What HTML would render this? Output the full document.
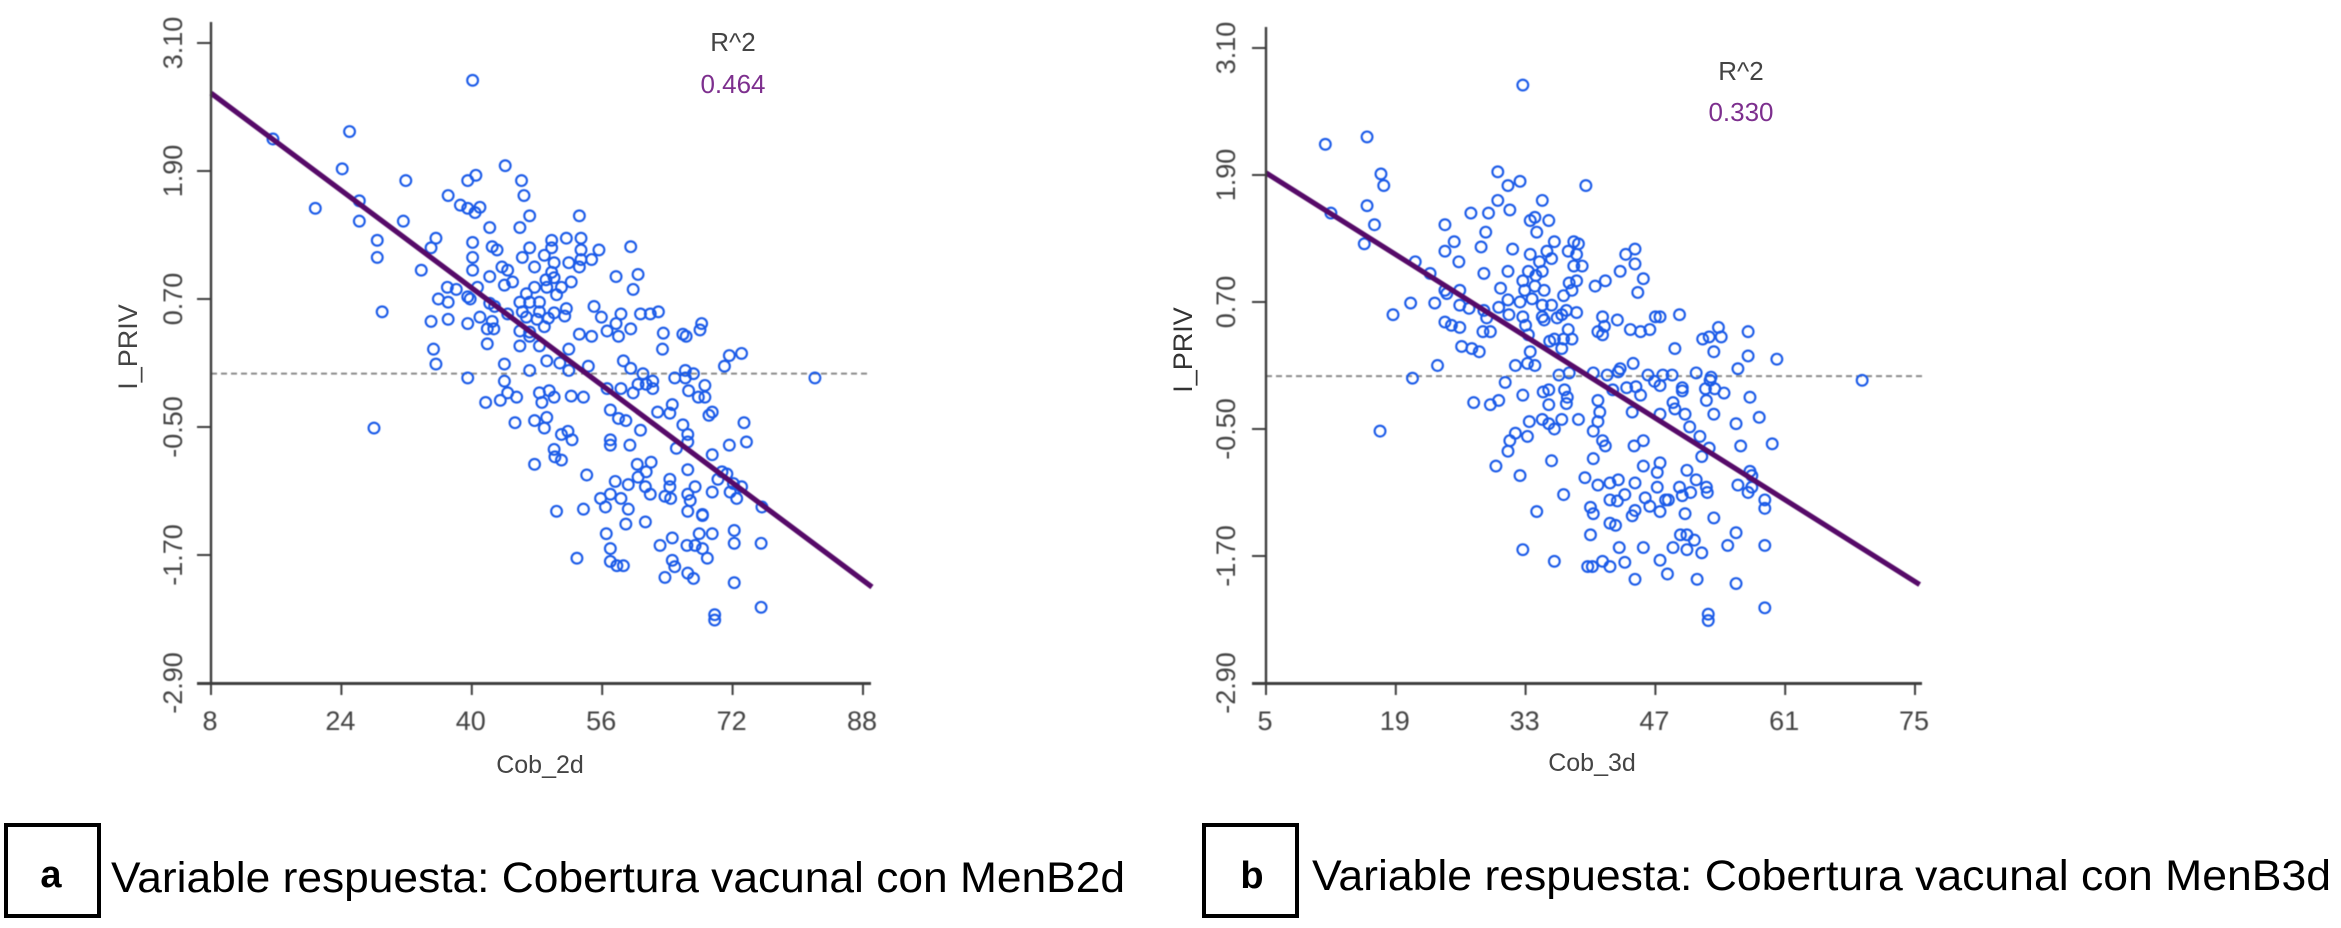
<!DOCTYPE html>
<html lang="es">
<head>
<meta charset="utf-8">
<title>Regresiones I_PRIV frente a Cob_2d y Cob_3d</title>
<style>
  html, body { margin: 0; padding: 0; background: #ffffff; }
  svg { display: block; font-family: "Liberation Sans", sans-serif; }
</style>
</head>
<body>
<svg id="figure" xmlns="http://www.w3.org/2000/svg" width="2341" height="928" viewBox="0 0 2341 928">
  <rect x="0" y="0" width="2341" height="928" fill="#ffffff"/>
  <g id="panel-a" style="filter:blur(0.45px)"></g>
  <g id="panel-b" style="filter:blur(0.45px)"></g>

  <text x="733" y="51" font-size="26" fill="#444" text-anchor="middle">R^2</text>
  <text x="733" y="93" font-size="26" fill="#7d2f8e" text-anchor="middle">0.464</text>
  <text x="1741" y="80" font-size="26" fill="#444" text-anchor="middle">R^2</text>
  <text x="1741" y="121" font-size="26" fill="#7d2f8e" text-anchor="middle">0.330</text>

  <text transform="translate(137,347) rotate(-90)" font-size="27" fill="#444" text-anchor="middle">I_PRIV</text>
  <text transform="translate(1192,350) rotate(-90)" font-size="27" fill="#333" text-anchor="middle">I_PRIV</text>
  <text x="540" y="773" font-size="25" fill="#444" text-anchor="middle">Cob_2d</text>
  <text x="1592" y="771" font-size="25" fill="#444" text-anchor="middle">Cob_3d</text>

  <rect x="6" y="825" width="93" height="91" fill="none" stroke="#000" stroke-width="4"/>
  <text x="51" y="887" font-size="38" font-weight="bold" fill="#000" text-anchor="middle">a</text>
  <text x="111" y="892" font-size="43" fill="#000" textLength="1014" lengthAdjust="spacingAndGlyphs">Variable respuesta: Cobertura vacunal con MenB2d</text>

  <rect x="1204" y="825" width="93" height="91" fill="none" stroke="#000" stroke-width="4"/>
  <text x="1252" y="888" font-size="38" font-weight="bold" fill="#000" text-anchor="middle">b</text>
  <text x="1312" y="890" font-size="43" fill="#000" textLength="1019" lengthAdjust="spacingAndGlyphs">Variable respuesta: Cobertura vacunal con MenB3d</text>
</svg>

<script>
const yTicks = [3.1, 1.9, 0.7, -0.5, -1.7, -2.9];
const xTicksA = [8, 24, 40, 56, 72, 88];
const xTicksB = [5, 19, 33, 47, 61, 75];

const trendXA = [8, 89.1];
const trendYA = [2.63, -2.0];
const trendXB = [5, 75.5];
const trendYB = [1.92, -1.97];

const cobA = [
40.1,15.6,25.0,24.1,20.8,26.2,26.2,28.0,
31.9,44.1,46.1,46.4,40.5,39.5,37.1,38.6,39.5,41.0,
40.4,47.1,53.2,31.6,42.2,45.9,28.4,28.4,35.6,35.0,
40.1,42.5,43.1,47.1,49.8,51.6,53.4,49.8,40.1,46.2,
48.9,53.4,55.6,59.5,33.8,40.1,43.7,44.4,47.7,50.1,
51.9,53.2,53.4,54.7,42.2,45.0,44.0,49.8,49.1,57.7,
60.4,50.1,37.0,38.1,40.7,47.7,49.2,51.0,52.2,59.8,
50.4,35.9,37.1,39.5,39.8,46.7,45.9,47.1,48.3,42.2,
42.8,55.0,29.0,46.2,48.3,51.6,44.4,51.4,50.1,55.9,
58.3,60.7,61.9,62.9,35.0,37.1,39.5,41.0,42.5,46.7,
48.0,49.4,57.7,68.2,41.9,42.7,45.9,48.9,47.1,56.6,
59.5,53.2,54.7,58.0,63.5,65.9,66.3,68.0,41.9,45.9,
48.3,47.1,35.3,51.9,63.4,35.6,44.0,49.2,50.8,54.3,
58.6,59.5,73.1,71.6,71.0,47.1,51.9,61.0,66.2,67.2,
39.5,44.0,82.1,64.9,66.2,62.2,60.4,61.4,58.3,56.6,
62.2,66.6,68.6,59.8,49.5,48.3,44.4,52.2,53.7,
45.5,67.8,68.6,50.1,
41.7,43.5,48.6,45.3,47.7,49.2,48.9,57.0,58.0,58.9,
62.8,64.3,64.6,69.1,69.5,73.4,60.7,65.9,66.5,73.7,
71.6,51.0,51.8,52.3,57.0,57.0,59.4,65.1,66.5,69.5,
50.1,50.2,51.0,47.7,60.3,62.0,61.4,66.5,70.7,71.3,
70.2,54.1,57.6,59.2,60.4,64.3,64.3,61.3,67.4,73.1,
72.1,55.8,57.0,58.3,61.9,63.7,64.4,66.5,69.5,71.7,
72.5,66.8,56.4,59.2,50.4,53.7,66.5,68.3,68.3,75.6,
58.9,61.3,56.5,64.6,67.9,69.5,72.2,72.2,75.5,63.1,
66.4,67.4,68.3,68.9,57.0,52.9,57.0,57.8,58.6,64.6,
64.9,66.5,63.7,67.2,72.2,75.5,69.8,69.8
];
const privA = [
2.75,2.20,2.27,1.92,1.55,1.62,1.43,-0.51,
1.81,1.95,1.81,1.67,1.86,1.81,1.67,1.58,1.55,1.56,
1.51,1.48,1.48,1.43,1.37,1.37,1.25,1.09,1.27,1.18,
1.23,1.19,1.16,1.18,1.25,1.27,1.27,1.18,1.09,1.09,
1.11,1.16,1.16,1.19,0.97,0.97,1.00,0.97,1.00,1.04,
1.04,1.00,1.07,1.07,0.91,0.86,0.83,0.95,0.88,0.91,
0.93,0.90,0.81,0.79,0.81,0.81,0.81,0.81,0.86,0.79,
0.74,0.70,0.67,0.72,0.70,0.75,0.67,0.67,0.67,0.66,
0.63,0.63,0.58,0.58,0.58,0.61,0.56,0.54,0.57,0.53,
0.56,0.56,0.56,0.58,0.49,0.51,0.47,0.53,0.49,0.53,
0.51,0.52,0.47,0.47,0.42,0.42,0.40,0.44,0.39,0.40,
0.42,0.37,0.35,0.35,0.38,0.37,0.35,0.41,0.28,0.26,
0.26,0.35,0.23,0.23,0.23,0.09,0.09,0.12,0.10,0.07,
0.12,0.05,0.19,0.17,0.07,0.03,0.03,0.00,0.03,0.00,
-0.04,-0.07,-0.04,-0.04,-0.04,-0.07,-0.10,-0.10,-0.14,-0.14,
-0.14,-0.16,-0.11,-0.18,-0.16,-0.18,-0.18,-0.21,-0.22,
-0.22,-0.22,-0.22,-0.22,
-0.27,-0.25,-0.27,-0.46,-0.44,-0.41,-0.51,-0.34,-0.42,-0.44,
-0.36,-0.37,-0.29,-0.39,-0.36,-0.46,-0.53,-0.48,-0.57,-0.64,
-0.67,-0.57,-0.54,-0.62,-0.62,-0.67,-0.67,-0.70,-0.64,-0.76,
-0.71,-0.78,-0.81,-0.85,-0.85,-0.83,-0.92,-0.90,-0.92,-0.94,
-0.99,-0.95,-1.01,-1.04,-0.97,-0.99,-1.06,-1.06,-1.06,-1.06,
-1.03,-1.17,-1.13,-1.17,-1.13,-1.15,-1.17,-1.13,-1.11,-1.11,
-1.17,-1.19,-1.25,-1.27,-1.29,-1.27,-1.29,-1.33,-1.32,-1.25,
-1.41,-1.39,-1.50,-1.54,-1.50,-1.50,-1.47,-1.59,-1.59,-1.61,
-1.61,-1.61,-1.64,-1.73,-1.64,-1.73,-1.76,-1.80,-1.80,-1.75,
-1.81,-1.87,-1.91,-1.92,-1.96,-2.19,-2.26,-2.31
];

const cobB = [
17.3,
32.7,11.4,15.9,17.4,17.7,30.0,32.4,31.1,39.5,15.9,
12.0,30.0,34.8,27.1,29.0,31.3,34.0,33.5,35.5,16.7,
24.3,34.2,28.7,15.6,25.3,28.2,24.3,31.6,36.1,38.2,
38.7,37.6,38.5,43.8,44.8,33.5,35.3,35.8,25.8,21.1,
34.5,38.2,39.1,44.8,22.7,28.5,31.1,34.8,33.3,43.2,
45.7,32.7,34.1,38.5,37.7,41.6,40.5,30.3,25.9,24.3,
24.5,32.9,34.0,35.0,38.0,45.1,37.1,20.6,23.2,31.1,
32.4,33.7,25.9,26.9,28.5,30.1,34.8,35.8,37.4,38.5,
18.7,31.2,32.7,28.8,34.8,35.0,36.4,36.9,41.3,42.9,
47.5,47.0,49.6,24.3,25.0,25.9,33.0,41.5,37.6,44.3,
46.4,45.4,53.8,57.0,28.4,29.2,40.8,41.3,33.3,36.1,
35.6,38.0,37.1,52.1,52.8,54.1,26.1,27.2,28.0,36.9,
49.1,33.5,53.3,57.0,60.1,23.5,31.9,33.2,34.0,44.6,
43.2,55.9,43.0,36.6,37.7,40.3,41.8,20.8,46.2,47.8,
48.8,51.4,53.0,
69.3,30.8,46.9,47.5,52.9,27.4,29.2,30.1,32.7,34.9,
35.5,37.2,37.5,37.4,35.5,40.8,42.4,43.9,44.9,45.4,
49.9,49.9,52.4,53.4,54.4,52.5,57.2,48.9,49.1,33.4,
34.8,35.5,36.9,36.1,38.7,41.0,40.8,44.5,47.5,50.2,
53.3,55.7,58.2,40.3,31.9,31.3,33.2,41.3,41.6,44.7,
45.7,50.7,51.8,59.6,56.2,52.8,31.1,29.8,35.8,40.3,
52.0,47.5,45.7,32.4,47.2,50.4,57.2,57.4,39.4,40.8,
42.1,43.0,44.8,51.4,52.5,47.2,49.6,55.9,57.4,52.6,
50.8,49.9,57.0,37.1,43.7,45.9,42.1,42.9,48.1,48.4,
58.8,34.2,40.0,40.3,44.5,44.8,46.4,47.5,50.2,58.8,
53.3,42.1,42.7,40.0,49.7,50.4,51.2,55.7,54.8,58.8,
32.7,43.1,45.7,48.9,50.4,52.0,36.1,41.3,43.7,47.5,
39.7,40.2,42.1,48.3,44.8,51.5,55.7,58.8,52.7,52.7
];
const privB = [
-0.52,
2.75,2.19,2.26,1.91,1.80,1.93,1.84,1.80,1.80,1.61,
1.54,1.66,1.66,1.54,1.54,1.57,1.50,1.47,1.47,1.43,
1.43,1.36,1.36,1.25,1.27,1.22,1.18,1.20,1.27,1.27,
1.25,1.18,1.15,1.15,1.20,1.15,1.18,1.11,1.08,1.08,
1.08,1.04,1.04,1.06,0.97,0.97,0.99,0.99,0.99,0.99,
0.92,0.90,0.95,0.90,0.88,0.90,0.85,0.83,0.81,0.81,
0.78,0.81,0.85,0.81,0.81,0.79,0.76,0.69,0.69,0.72,
0.70,0.73,0.67,0.64,0.62,0.65,0.67,0.67,0.62,0.60,
0.58,0.58,0.56,0.55,0.56,0.53,0.55,0.58,0.56,0.53,
0.56,0.56,0.58,0.51,0.48,0.46,0.48,0.47,0.44,0.44,
0.44,0.42,0.46,0.42,0.42,0.42,0.42,0.39,0.39,0.35,
0.33,0.35,0.35,0.35,0.37,0.37,0.28,0.26,0.23,0.26,
0.26,0.23,0.23,0.19,0.16,0.10,0.10,0.12,0.10,0.12,
0.07,0.07,0.04,0.01,0.03,0.03,0.01,-0.02,0.01,0.01,
0.01,0.03,-0.01,
-0.04,-0.06,-0.05,-0.09,-0.04,-0.25,-0.27,-0.23,-0.18,-0.15,
-0.13,-0.13,-0.20,-0.26,-0.27,-0.23,-0.13,-0.11,-0.10,-0.18,
-0.11,-0.14,-0.12,-0.12,-0.16,-0.23,-0.20,-0.25,-0.31,-0.43,
-0.41,-0.45,-0.41,-0.50,-0.41,-0.34,-0.43,-0.34,-0.36,-0.36,
-0.36,-0.45,-0.39,-0.52,-0.54,-0.61,-0.57,-0.61,-0.66,-0.66,
-0.61,-0.48,-0.57,-0.64,-0.66,-0.68,-0.71,-0.85,-0.80,-0.78,
-0.76,-0.82,-0.85,-0.94,-0.91,-0.89,-0.90,-0.94,-0.96,-1.03,
-1.01,-0.98,-1.01,-0.98,-1.05,-1.05,-1.05,-1.03,-1.05,-1.10,
-1.10,-1.13,-1.10,-1.12,-1.12,-1.15,-1.17,-1.18,-1.17,-1.17,
-1.17,-1.28,-1.24,-1.30,-1.32,-1.27,-1.23,-1.28,-1.30,-1.25,
-1.34,-1.39,-1.41,-1.50,-1.50,-1.50,-1.55,-1.48,-1.60,-1.60,
-1.64,-1.62,-1.62,-1.62,-1.64,-1.67,-1.75,-1.75,-1.76,-1.74,
-1.80,-1.80,-1.80,-1.87,-1.92,-1.92,-1.96,-2.19,-2.25,-2.31
];

const NS = 'http://www.w3.org/2000/svg';

function make(parent, tag, attrs) {
  const el = document.createElementNS(NS, tag);
  for (const k in attrs) el.setAttribute(k, attrs[k]);
  parent.appendChild(el);
  return el;
}

function linearScale(d0, d1, r0, r1) {
  return function (v) { return r0 + (v - d0) * (r1 - r0) / (d1 - d0); };
}

function drawPanel(cfg) {
  const g = document.getElementById(cfg.id);
  const sx = linearScale(cfg.xTicks[0], cfg.xTicks[cfg.xTicks.length - 1], cfg.left, cfg.right);
  const sy = linearScale(yTicks[0], yTicks[yTicks.length - 1], cfg.top, cfg.bottom);

  const zero = make(g, 'line', { x1: cfg.left, x2: cfg.axisRight, y1: sy(0), y2: sy(0), stroke: '#8a8a8a', 'stroke-width': 2, 'stroke-dasharray': '6 4' });
  
  

  for (let i = 0; i < Math.min(cfg.xs.length, cfg.ys.length); i++) {
    const c = make(g, 'circle', { cx: sx(cfg.xs[i]), cy: sy(cfg.ys[i]), r: 5.4, fill: 'none', stroke: '#1a5ae8', 'stroke-width': 2.1 });
    
    
  }

  const trend = make(g, 'line', { x1: sx(cfg.trendX[0]), y1: sy(cfg.trendY[0]), x2: sx(cfg.trendX[1]), y2: sy(cfg.trendY[1]), stroke: '#560a68', 'stroke-width': 5.2 });
  
  

  const yAxis = make(g, 'line', { x1: cfg.left, x2: cfg.left, y1: cfg.axisTop, y2: cfg.bottom + 1, stroke: '#3d3d3d', 'stroke-width': 2.4 });
  
  

  const xAxis = make(g, 'line', { x1: cfg.left - 14, x2: cfg.axisRight, y1: cfg.bottom + 0.5, y2: cfg.bottom + 0.5, stroke: '#3d3d3d', 'stroke-width': 3 });
  
  

  yTicks.forEach(function (v) {
    const tick = make(g, 'line', { x1: cfg.left - 14, x2: cfg.left, y1: sy(v), y2: sy(v), stroke: '#3d3d3d', 'stroke-width': 2 });
    
    
    const label = make(g, 'text', { transform: 'translate(' + cfg.yLabelX + ',' + sy(v) + ') rotate(-90)', 'font-size': 27, fill: '#444', 'text-anchor': 'middle' });
    label.textContent = v.toFixed(2);
    
    
  });

  cfg.xTicks.forEach(function (v) {
    const tick = make(g, 'line', { x1: sx(v), x2: sx(v), y1: cfg.bottom, y2: cfg.bottom + 12, stroke: '#3d3d3d', 'stroke-width': 2 });
    
    
    const label = make(g, 'text', { x: sx(v) - 1, y: 730, 'font-size': 27, fill: '#444', 'text-anchor': 'middle' });
    label.textContent = String(v);
    
    
  });
}

drawPanel({ id: 'panel-a', xTicks: xTicksA, xs: cobA, ys: privA, trendX: trendXA, trendY: trendYA,
  left: 211, right: 863, top: 43, bottom: 683, axisTop: 22, axisRight: 871, yLabelX: 182 });
drawPanel({ id: 'panel-b', xTicks: xTicksB, xs: cobB, ys: privB, trendX: trendXB, trendY: trendYB,
  left: 1266, right: 1915, top: 48, bottom: 683, axisTop: 27, axisRight: 1922, yLabelX: 1235 });
</script>
</body>
</html>
